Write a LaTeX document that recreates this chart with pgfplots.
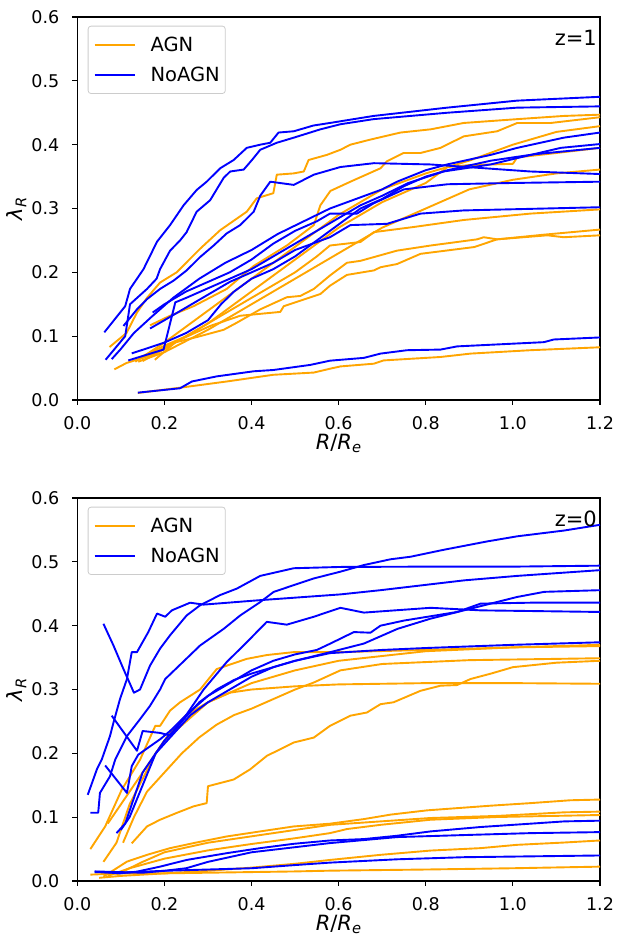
\documentclass[border=0pt]{standalone}
\usepackage{fontspec}
\setmainfont{DejaVu Sans}
\usepackage{pgfplots}
\pgfplotsset{compat=1.18}
\definecolor{agnc}{HTML}{FFA500}
\definecolor{noagnc}{HTML}{0000FF}
\newcommand{\fst}{\fontsize{17.5}{21}\selectfont}
\newcommand{\fsl}{\fontsize{19.5}{23}\selectfont}
\newcommand{\fsa}{\fontsize{21}{25}\selectfont}
\pgfplotsset{
 agnl/.style={agnc, line width=1.9pt, line join=round},
 noagnl/.style={noagnc, line width=1.9pt, line join=round},
 panel/.style={
  scale only axis, width=522.7pt, height=383pt,
  xmin=0, xmax=1.2, ymin=0, ymax=0.6,
  xtick={0,0.2,0.4,0.6,0.8,1.0,1.2}, xticklabels={0.0,0.2,0.4,0.6,0.8,1.0,1.2},
  ytick={0,0.1,0.2,0.3,0.4,0.5,0.6}, yticklabels={0.0,0.1,0.2,0.3,0.4,0.5,0.6},
  tick align=outside, tick pos=left,
  major tick length=4.9pt,
  every tick/.style={black, line width=1.1pt},
  axis line style={line width=1.1pt},
  tick label style={font=\fst},
  xticklabel style={anchor=north, inner sep=0pt, yshift=-11pt},
  yticklabel style={anchor=east, inner sep=0pt, xshift=-13pt},
  legend style={at={(rel axis cs:0,1)}, anchor=north west, xshift=10.4pt, yshift=-8.7pt,
    draw=black!20, line width=0.8pt, rounded corners=3pt, fill=white, fill opacity=0.8,
    text opacity=1, font=\fsl, cells={anchor=west}, nodes={inner sep=0pt},
    inner xsep=5.5pt, inner ysep=10.5pt, row sep=14.5pt, column sep=14.5pt},
  legend image code/.code={\draw[##1] (0pt,0pt) -- (40.6pt,0pt);},
 },
}
\begin{document}
\begin{tikzpicture}
\path[use as bounding box] (0,0) rectangle (617pt,-936pt);
% ---------------- z = 1 ----------------
\begin{axis}[panel, at={(77.3pt,-400pt)}, anchor=south west]
\addlegendimage{agnl}\addlegendentry{AGN}
\addlegendimage{noagnl}\addlegendentry{NoAGN}
% AGN
\addplot[agnl] coordinates {(0.074,0.083) (0.113,0.105) (0.137,0.137) (0.16,0.16) (0.19,0.184) (0.228,0.20) (0.282,0.237) (0.328,0.266) (0.389,0.295) (0.412,0.316) (0.45,0.324) (0.458,0.353) (0.497,0.355) (0.52,0.358) (0.531,0.376) (0.573,0.384) (0.604,0.392) (0.627,0.40) (0.673,0.408) (0.742,0.419) (0.811,0.424) (0.887,0.434) (1.01,0.44) (1.117,0.445) (1.2,0.447)};
\addplot[agnl] coordinates {(0.167,0.117) (0.213,0.132) (0.267,0.147) (0.343,0.174) (0.405,0.21) (0.481,0.242) (0.543,0.274) (0.558,0.305) (0.581,0.3275) (0.627,0.342) (0.696,0.363) (0.711,0.374) (0.749,0.387) (0.788,0.387) (0.834,0.395) (0.887,0.413) (0.964,0.421) (1.01,0.434) (1.087,0.434) (1.2,0.443)};
\addplot[agnl] coordinates {(0.133,0.06) (0.2,0.09) (0.3,0.14) (0.4,0.19) (0.5,0.24) (0.6,0.29) (0.7,0.33) (0.8,0.355) (0.9,0.375) (1.0,0.40) (1.1,0.42) (1.2,0.429)};
\addplot[agnl] coordinates {(0.150,0.061) (0.2,0.08) (0.3,0.12) (0.4,0.17) (0.5,0.22) (0.6,0.27) (0.7,0.31) (0.8,0.34) (0.85,0.365) (0.9,0.368) (1.0,0.37) (1.01,0.38) (1.1,0.387) (1.2,0.395)};
\addplot[agnl] coordinates {(0.14,0.06) (0.2,0.075) (0.3,0.11) (0.4,0.15) (0.5,0.19) (0.6,0.23) (0.7,0.27) (0.8,0.30) (0.9,0.33) (1.0,0.345) (1.1,0.355) (1.2,0.361)};
\addplot[agnl] coordinates {(0.14,0.065) (0.2,0.085) (0.25,0.1) (0.3,0.12) (0.35,0.14) (0.4,0.16) (0.45,0.18) (0.5,0.2) (0.55,0.225) (0.58,0.242) (0.65,0.2475) (0.681,0.263) (0.772,0.271) (0.887,0.282) (1.04,0.292) (1.2,0.2986)};
\addplot[agnl] coordinates {(0.085,0.048) (0.113,0.058) (0.16,0.068) (0.221,0.0895) (0.282,0.10) (0.336,0.11) (0.366,0.121) (0.42,0.142) (0.481,0.161) (0.512,0.163) (0.543,0.174) (0.58,0.195) (0.619,0.215) (0.65,0.218) (0.734,0.234) (0.811,0.242) (0.918,0.2517) (0.933,0.255) (0.964,0.2517) (1.079,0.258) (1.117,0.255) (1.2,0.258)};
\addplot[agnl] coordinates {(0.178,0.063) (0.228,0.092) (0.305,0.116) (0.374,0.132) (0.466,0.138) (0.474,0.147) (0.558,0.166) (0.58,0.179) (0.619,0.196) (0.681,0.203) (0.696,0.208) (0.734,0.213) (0.788,0.229) (0.911,0.2396) (0.964,0.2517) (1.071,0.259) (1.2,0.267)};
\addplot[agnl] coordinates {(0.139,0.011) (0.244,0.020) (0.343,0.029) (0.45,0.0395) (0.543,0.043) (0.58,0.049) (0.604,0.0526) (0.681,0.0569) (0.703,0.062) (0.834,0.0674) (0.903,0.0727) (1.04,0.078) (1.2,0.0826)};
% NoAGN
\addplot[noagnl] coordinates {(0.062,0.106) (0.11,0.147) (0.121,0.174) (0.152,0.205) (0.183,0.248) (0.213,0.274) (0.244,0.305) (0.274,0.329) (0.297,0.342) (0.328,0.363) (0.359,0.376) (0.389,0.395) (0.42,0.40) (0.443,0.403) (0.462,0.419) (0.497,0.421) (0.542,0.43) (0.58,0.434) (0.68,0.445) (0.849,0.458) (1.01,0.469) (1.2,0.475)};
\addplot[noagnl] coordinates {(0.065,0.063) (0.11,0.10) (0.121,0.15) (0.16,0.174) (0.182,0.19) (0.19,0.205) (0.213,0.234) (0.236,0.25) (0.251,0.263) (0.274,0.295) (0.305,0.313) (0.336,0.348) (0.351,0.358) (0.382,0.361) (0.401,0.376) (0.42,0.392) (0.458,0.403) (0.497,0.411) (0.558,0.424) (0.604,0.432) (0.68,0.44) (0.849,0.45) (1.01,0.458) (1.2,0.460)};
\addplot[noagnl] coordinates {(0.079,0.064) (0.1,0.08) (0.13,0.105) (0.17,0.13) (0.22,0.16) (0.28,0.19) (0.34,0.215) (0.40,0.235) (0.46,0.26) (0.52,0.28) (0.58,0.30) (0.64,0.315) (0.70,0.33) (0.734,0.342) (0.80,0.36) (0.849,0.369) (0.949,0.384) (1.01,0.395) (1.117,0.411) (1.2,0.419)};
\addplot[noagnl] coordinates {(0.117,0.062) (0.198,0.079) (0.225,0.153) (0.25,0.16) (0.3,0.175) (0.35,0.19) (0.40,0.205) (0.45,0.225) (0.50,0.245) (0.55,0.265) (0.60,0.285) (0.65,0.305) (0.70,0.32) (0.76,0.34) (0.841,0.358) (0.949,0.369) (1.01,0.379) (1.11,0.395) (1.2,0.401)};
\addplot[noagnl] coordinates {(0.125,0.073) (0.2,0.09) (0.25,0.105) (0.3,0.125) (0.33,0.15) (0.36,0.17) (0.40,0.19) (0.45,0.205) (0.5,0.225) (0.55,0.25) (0.6,0.275) (0.65,0.30) (0.7,0.315) (0.75,0.335) (0.8,0.35) (0.85,0.36) (0.95,0.375) (1.05,0.385) (1.2,0.395)};
\addplot[noagnl] coordinates {(0.106,0.116) (0.137,0.142) (0.16,0.158) (0.19,0.174) (0.221,0.187) (0.251,0.203) (0.282,0.224) (0.313,0.242) (0.343,0.261) (0.374,0.274) (0.405,0.295) (0.42,0.32) (0.443,0.342) (0.497,0.337) (0.543,0.353) (0.604,0.365) (0.681,0.371) (0.811,0.369) (1.04,0.358) (1.2,0.354)};
\addplot[noagnl] coordinates {(0.173,0.137) (0.2,0.15) (0.25,0.17) (0.3,0.185) (0.35,0.20) (0.40,0.22) (0.45,0.245) (0.5,0.265) (0.55,0.28) (0.58,0.292) (0.642,0.292) (0.68,0.308) (0.75,0.33) (0.85,0.338) (1.0,0.34) (1.2,0.342)};
\addplot[noagnl] coordinates {(0.167,0.112) (0.2,0.125) (0.25,0.145) (0.30,0.165) (0.35,0.185) (0.40,0.20) (0.45,0.215) (0.50,0.235) (0.58,0.255) (0.627,0.274) (0.711,0.276) (0.788,0.292) (0.887,0.297) (1.2,0.302)};
\addplot[noagnl] coordinates {(0.139,0.0115) (0.236,0.0184) (0.263,0.029) (0.32,0.037) (0.405,0.045) (0.45,0.047) (0.535,0.055) (0.58,0.0616) (0.658,0.066) (0.696,0.0727) (0.757,0.078) (0.834,0.079) (0.872,0.084) (1.071,0.0906) (1.094,0.0948) (1.2,0.098)};
\node[anchor=north east, inner sep=0pt, font=\fsa, xshift=-3pt, yshift=-12.7pt] at (rel axis cs:1,1) {z=1};
\end{axis}
% ---------------- z = 0 ----------------
\begin{axis}[panel, at={(77.3pt,-881pt)}, anchor=south west]
\addlegendimage{agnl}\addlegendentry{AGN}
\addlegendimage{noagnl}\addlegendentry{NoAGN}
% AGN
\addplot[agnl] coordinates {(0.03,0.05) (0.064,0.0855) (0.102,0.143) (0.144,0.19) (0.179,0.243) (0.19,0.243) (0.213,0.267) (0.236,0.28) (0.282,0.30) (0.32,0.332) (0.389,0.348) (0.435,0.354) (0.497,0.3586) (0.604,0.3586) (0.8,0.362) (1.0,0.366) (1.2,0.370)};
\addplot[agnl] coordinates {(0.06,0.03) (0.09,0.06) (0.12,0.12) (0.15,0.16) (0.18,0.2) (0.21,0.23) (0.25,0.26) (0.3,0.28) (0.35,0.295) (0.4,0.3) (0.5,0.305) (0.6,0.308) (0.8,0.31) (1.0,0.31) (1.2,0.309)};
\addplot[agnl] coordinates {(0.105,0.06) (0.13,0.1) (0.16,0.14) (0.2,0.17) (0.24,0.2) (0.28,0.225) (0.32,0.245) (0.36,0.26) (0.4,0.27) (0.45,0.285) (0.5,0.3) (0.543,0.311) (0.604,0.33) (0.7,0.34) (0.9,0.346) (1.2,0.349)};
\addplot[agnl] coordinates {(0.07,0.09) (0.1,0.12) (0.15,0.17) (0.2,0.22) (0.25,0.25) (0.3,0.28) (0.4,0.31) (0.5,0.33) (0.6,0.345) (0.8,0.36) (1.0,0.366) (1.2,0.368)};
\addplot[agnl] coordinates {(0.125,0.059) (0.16,0.0855) (0.19,0.096) (0.228,0.1066) (0.267,0.117) (0.297,0.122) (0.3,0.1485) (0.359,0.159) (0.397,0.175) (0.435,0.196) (0.497,0.217) (0.543,0.2247) (0.58,0.243) (0.627,0.259) (0.665,0.264) (0.696,0.277) (0.726,0.28) (0.788,0.298) (0.834,0.306) (0.872,0.307) (0.903,0.3165) (0.95,0.325) (1.0,0.335) (1.1,0.342) (1.2,0.345)};
\addplot[agnl] coordinates {(0.06,0.0068) (0.114,0.0304) (0.16,0.041) (0.213,0.0515) (0.267,0.0594) (0.343,0.0698) (0.42,0.0777) (0.497,0.0855) (0.58,0.0898) (0.658,0.097) (0.719,0.104) (0.803,0.1107) (0.949,0.118) (1.04,0.122) (1.132,0.1265) (1.2,0.1276)};
\addplot[agnl] coordinates {(0.09,0.01) (0.15,0.03) (0.2,0.045) (0.3,0.06) (0.4,0.07) (0.5,0.08) (0.58,0.088) (0.811,0.0987) (0.965,0.102) (1.118,0.1076) (1.2,0.1087)};
\addplot[agnl] coordinates {(0.07,0.008) (0.12,0.02) (0.2,0.035) (0.3,0.048) (0.4,0.058) (0.5,0.067) (0.58,0.075) (0.619,0.0814) (0.696,0.088) (0.811,0.096) (0.965,0.1003) (1.2,0.1034)};
\addplot[agnl] coordinates {(0.05,0.005) (0.1,0.008) (0.2,0.012) (0.3,0.016) (0.4,0.021) (0.5,0.027) (0.58,0.033) (0.696,0.041) (0.811,0.0477) (0.926,0.0515) (1.01,0.0567) (1.118,0.0603) (1.2,0.0635)};
\addplot[agnl] coordinates {(0.03,0.01) (0.1,0.012) (0.2,0.012) (0.3,0.013) (0.4,0.014) (0.5,0.015) (0.58,0.0162) (0.8,0.018) (1.0,0.02) (1.2,0.0225)};
% NoAGN
\addplot[noagnl] coordinates {(0.03,0.107) (0.048,0.107) (0.052,0.138) (0.075,0.164) (0.087,0.19) (0.114,0.227) (0.144,0.2535) (0.167,0.2745) (0.19,0.30) (0.202,0.3165) (0.282,0.369) (0.336,0.395) (0.374,0.416) (0.42,0.437) (0.451,0.453) (0.497,0.4635) (0.543,0.474) (0.604,0.4846) (0.658,0.495) (0.719,0.504) (0.765,0.508) (0.842,0.519) (0.941,0.532) (1.01,0.54) (1.117,0.549) (1.2,0.558)};
\addplot[noagnl] coordinates {(0.06,0.403) (0.083,0.369) (0.106,0.332) (0.13,0.295) (0.144,0.30) (0.167,0.3375) (0.19,0.364) (0.213,0.385) (0.251,0.416) (0.282,0.432) (0.328,0.448) (0.366,0.458) (0.42,0.478) (0.497,0.49) (0.604,0.492) (0.8,0.4925) (1.0,0.4925) (1.2,0.494)};
\addplot[noagnl] coordinates {(0.024,0.135) (0.045,0.175) (0.056,0.19) (0.075,0.227) (0.083,0.248) (0.098,0.285) (0.114,0.3165) (0.125,0.3586) (0.137,0.3586) (0.163,0.39) (0.183,0.419) (0.202,0.414) (0.217,0.424) (0.259,0.436) (0.29,0.433) (0.42,0.44) (0.604,0.449) (0.696,0.4556) (0.888,0.471) (1.01,0.478) (1.2,0.487)};
\addplot[noagnl] coordinates {(0.079,0.259) (0.137,0.204) (0.15,0.235) (0.19,0.232) (0.213,0.228) (0.24,0.25) (0.28,0.28) (0.32,0.3) (0.36,0.315) (0.4,0.325) (0.45,0.335) (0.5,0.345) (0.581,0.3586) (0.658,0.372) (0.735,0.395) (0.811,0.411) (0.888,0.424) (0.934,0.432) (1.01,0.445) (1.072,0.453) (1.2,0.4556)};
\addplot[noagnl] coordinates {(0.064,0.181) (0.114,0.138) (0.125,0.18) (0.14,0.198) (0.19,0.222) (0.213,0.235) (0.25,0.26) (0.3,0.29) (0.35,0.31) (0.4,0.33) (0.45,0.345) (0.5,0.355) (0.55,0.362) (0.581,0.372) (0.635,0.39) (0.673,0.389) (0.696,0.40) (0.75,0.408) (0.872,0.4215) (0.926,0.4346) (1.04,0.436) (1.2,0.436)};
\addplot[noagnl] coordinates {(0.1,0.08) (0.12,0.1) (0.15,0.15) (0.18,0.2) (0.2,0.22) (0.24,0.25) (0.29,0.30) (0.343,0.343) (0.389,0.374) (0.435,0.406) (0.481,0.4016) (0.543,0.414) (0.604,0.428) (0.658,0.4205) (0.811,0.428) (0.926,0.424) (1.2,0.4215)};
\addplot[noagnl] coordinates {(0.09,0.075) (0.11,0.09) (0.13,0.13) (0.15,0.17) (0.18,0.2) (0.22,0.23) (0.26,0.26) (0.3,0.28) (0.35,0.3) (0.4,0.32) (0.45,0.335) (0.5,0.345) (0.58,0.357) (0.7,0.362) (0.8,0.365) (1.0,0.37) (1.2,0.374)};
\addplot[noagnl] coordinates {(0.041,0.0147) (0.098,0.012) (0.137,0.0147) (0.19,0.0225) (0.251,0.033) (0.343,0.0436) (0.42,0.0515) (0.497,0.0583) (0.58,0.0635) (0.658,0.0657) (0.734,0.0709) (0.811,0.0777) (0.926,0.0846) (1.04,0.0898) (1.118,0.0934) (1.2,0.0945)};
\addplot[noagnl] coordinates {(0.04,0.015) (0.15,0.013) (0.2,0.016) (0.25,0.02) (0.3,0.03) (0.4,0.045) (0.5,0.053) (0.58,0.0594) (0.734,0.0688) (0.888,0.072) (1.04,0.075) (1.2,0.0766)};
\addplot[noagnl] coordinates {(0.04,0.014) (0.1,0.013) (0.2,0.016) (0.3,0.018) (0.4,0.02) (0.5,0.025) (0.58,0.0288) (0.734,0.034) (0.888,0.0373) (1.2,0.040)};
\node[anchor=north east, inner sep=0pt, font=\fsa, xshift=-3pt, yshift=-13pt] at (rel axis cs:1,1) {z=0};
\end{axis}
% axis labels
\node[anchor=base, inner sep=0pt, font=\fsa] at (338.65pt,-449pt) {{\itshape R}/{\itshape R}\textsubscript{\itshape e}};
\node[anchor=base, inner sep=0pt, font=\fsa] at (338.65pt,-930pt) {{\itshape R}/{\itshape R}\textsubscript{\itshape e}};
\node[rotate=90, inner sep=0pt, font=\fsa] at (16.7pt,-208.5pt) {{\itshape λ}\textsubscript{\itshape R}};
\node[rotate=90, inner sep=0pt, font=\fsa] at (16.7pt,-689.5pt) {{\itshape λ}\textsubscript{\itshape R}};
\end{tikzpicture}
\end{document}
